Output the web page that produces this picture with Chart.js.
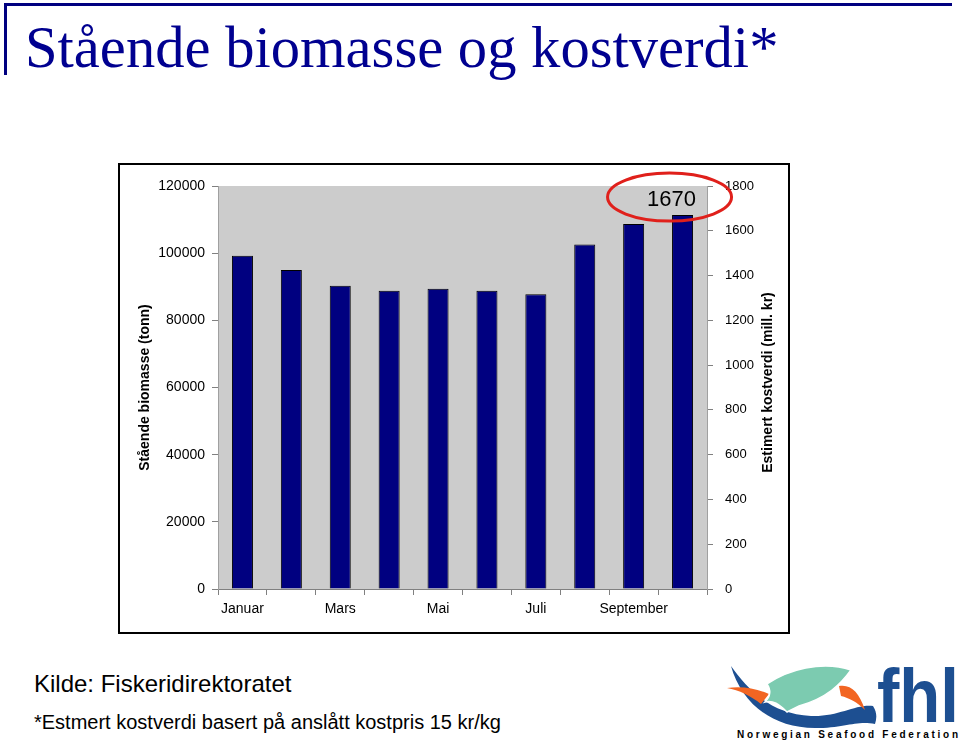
<!DOCTYPE html>
<html>
<head>
<meta charset="utf-8">
<script src="https://cdn.jsdelivr.net/npm/chart.js@4"></script>
<style>
  body { margin: 0; width: 960px; height: 741px; background: #fff; position: relative; overflow: hidden; }
  #topplinje { position: absolute; left: 4px; top: 3px; width: 948px; height: 3px; background: #000080; }
  #sidelinje { position: absolute; left: 4px; top: 3px; width: 3px; height: 72px; background: #000080; }
  #tittel { position: absolute; left: 25px; top: 14px; margin: 0; font-family: "Liberation Serif", serif; font-weight: normal; font-size: 58.6px; color: #000090; white-space: nowrap; }
  #boks { position: absolute; left: 118px; top: 163px; width: 668px; height: 467px; border: 2px solid #000; }
  #kilde { position: absolute; left: 34px; top: 670px; font-family: "Liberation Sans", Arial, sans-serif; font-size: 24px; color: #000; }
  #fotnote { position: absolute; left: 34px; top: 711px; font-family: "Liberation Sans", Arial, sans-serif; font-size: 20px; color: #000; }
  #logo { position: absolute; left: 727px; top: 658px; }
</style>
</head>
<body>
<div id="topplinje"></div>
<div id="sidelinje"></div>
<h1 id="tittel">Stående biomasse og kostverdi*</h1>
<div id="boks"><canvas id="graf" width="668" height="467"></canvas></div>
<div id="kilde">Kilde: Fiskeridirektoratet</div>
<div id="fotnote">*Estmert kostverdi basert på anslått kostpris 15 kr/kg</div>
<svg id="logo" width="233" height="83" viewBox="0 0 233 83">
  <path d="M4 8 C 20 30, 42 56, 84 58 C 112 59, 128 46, 146 48 C 150 54, 150 60, 148 66 C 130 62, 118 70, 88 70 C 44 70, 14 44, 4 8 Z" fill="#1d4f91"/>
  <path d="M0 30 C 15 28, 28 30, 42 36 L 34 46 C 24 38, 12 32, 0 30 Z" fill="#f26522"/>
  <path d="M112 28 C 124 26, 132 34, 138 52 C 130 44, 122 40, 114 38 Z" fill="#f26522"/>
  <path d="M40 26 C 60 12, 95 2, 124 12 C 114 26, 100 40, 72 48 L 60 54 C 52 46, 46 42, 38 44 C 44 38, 44 32, 40 26 Z" fill="#7ccbb0" stroke="#fff" stroke-width="1.5"/>
  <text x="150" y="64" font-family="Liberation Sans, sans-serif" font-weight="bold" font-size="76" fill="#1d4f91" textLength="82" lengthAdjust="spacingAndGlyphs">fhl</text>
  <text x="10" y="80" font-family="Liberation Sans, sans-serif" font-weight="bold" font-size="10" fill="#000" textLength="221" lengthAdjust="spacing">Norwegian Seafood Federation</text>
</svg>
<script>
const maneder = ["Januar", "Februar", "Mars", "April", "Mai", "Juni", "Juli", "August", "September", "Oktober"];
const biomasse = [99200, 95000, 90300, 88800, 89400, 88800, 87800, 102600, 108700, 111333];
const venstreMaks = 120000;
const venstreSteg = 20000;
const hoyreMaks = 1800;
const hoyreSteg = 200;
const markertVerdi = 1670;
const hoyreTittel = "Estimert kostverdi (mill. kr)";

const fontTick = { family: "Liberation Sans", size: 14 };
const fontTittel = { family: "Liberation Sans", size: 14, weight: "bold" };

const bakgrunn = {
    id: "bakgrunn",
    beforeDraw(chart) {
        const { ctx, chartArea: a } = chart;
        ctx.save();
        ctx.fillStyle = "#fff";
        ctx.fillRect(0, 0, chart.width, chart.height);
        ctx.fillStyle = "#cccccc";
        ctx.fillRect(a.left, a.top, a.right - a.left, a.bottom - a.top);
        ctx.restore();
    }
};

// høyre aksetittel leses nedenfra og opp, som den venstre
const markering = {
    id: "markering",
    afterDraw(chart) {
        const { ctx, scales, chartArea: a } = chart;
        const x = scales.x.getPixelForValue(maneder.length - 1);
        const y = scales.y2.getPixelForValue(markertVerdi);
        ctx.save();
        ctx.fillStyle = "#000";
        ctx.font = "22px 'Liberation Sans'";
        ctx.textAlign = "center";
        ctx.textBaseline = "middle";
        ctx.fillText(String(markertVerdi), x - 11, y - 15);
        ctx.strokeStyle = "#e0201b";
        ctx.lineWidth = 3;
        ctx.beginPath();
        ctx.ellipse(x - 13, y - 18, 62, 24, 0, 0, Math.PI * 2);
        ctx.stroke();

        ctx.translate(scales.y2.right - 20, (a.top + a.bottom) / 2 - 5);
        ctx.rotate(-Math.PI / 2);
        ctx.font = "bold 14px 'Liberation Sans'";
        ctx.fillText(hoyreTittel, 0, 0);
        ctx.restore();
    }
};

new Chart(document.getElementById("graf"), {
    type: "bar",
    data: {
        labels: maneder,
        datasets: [{
            data: biomasse,
            backgroundColor: "#000080",
            borderColor: "#000",
            borderWidth: 1,
            barPercentage: 0.43,
            categoryPercentage: 1
        }]
    },
    options: {
        responsive: false,
        animation: false,
        layout: { padding: { top: 21, left: 0, right: 0, bottom: 0 } },
        plugins: { legend: { display: false }, tooltip: { enabled: false } },
        scales: {
            x: {
                grid: { offset: true, drawOnChartArea: false, tickLength: 6, color: "#808080" },
                border: { color: "#808080" },
                ticks: {
                    autoSkip: false, maxRotation: 0, color: "#000", font: fontTick, padding: 6,
                    callback: (v, i) => i % 2 === 0 ? maneder[i] : ""
                },
                afterFit: s => { s.height = 43; }
            },
            y: {
                position: "left",
                min: 0, max: venstreMaks,
                grid: { drawOnChartArea: false, tickLength: 6, color: "#808080" },
                border: { color: "#a0a0a0" },
                ticks: { stepSize: venstreSteg, color: "#000", font: fontTick, padding: 7, callback: v => String(v) },
                title: { display: true, text: "Stående biomasse (tonn)", color: "#000", font: fontTittel, padding: { top: 17, bottom: 0 } },
                afterFit: s => { s.width = 98; }
            },
            y2: {
                position: "right",
                min: 0, max: hoyreMaks,
                grid: { drawOnChartArea: false, tickLength: 6, color: "#808080" },
                border: { color: "#a0a0a0" },
                ticks: { stepSize: hoyreSteg, color: "#000", font: { family: "Liberation Sans", size: 13 }, padding: 12, callback: v => String(v) },
                afterFit: s => { s.width = 81; }
            }
        }
    },
    plugins: [bakgrunn, markering]
});
</script>
</body>
</html>
